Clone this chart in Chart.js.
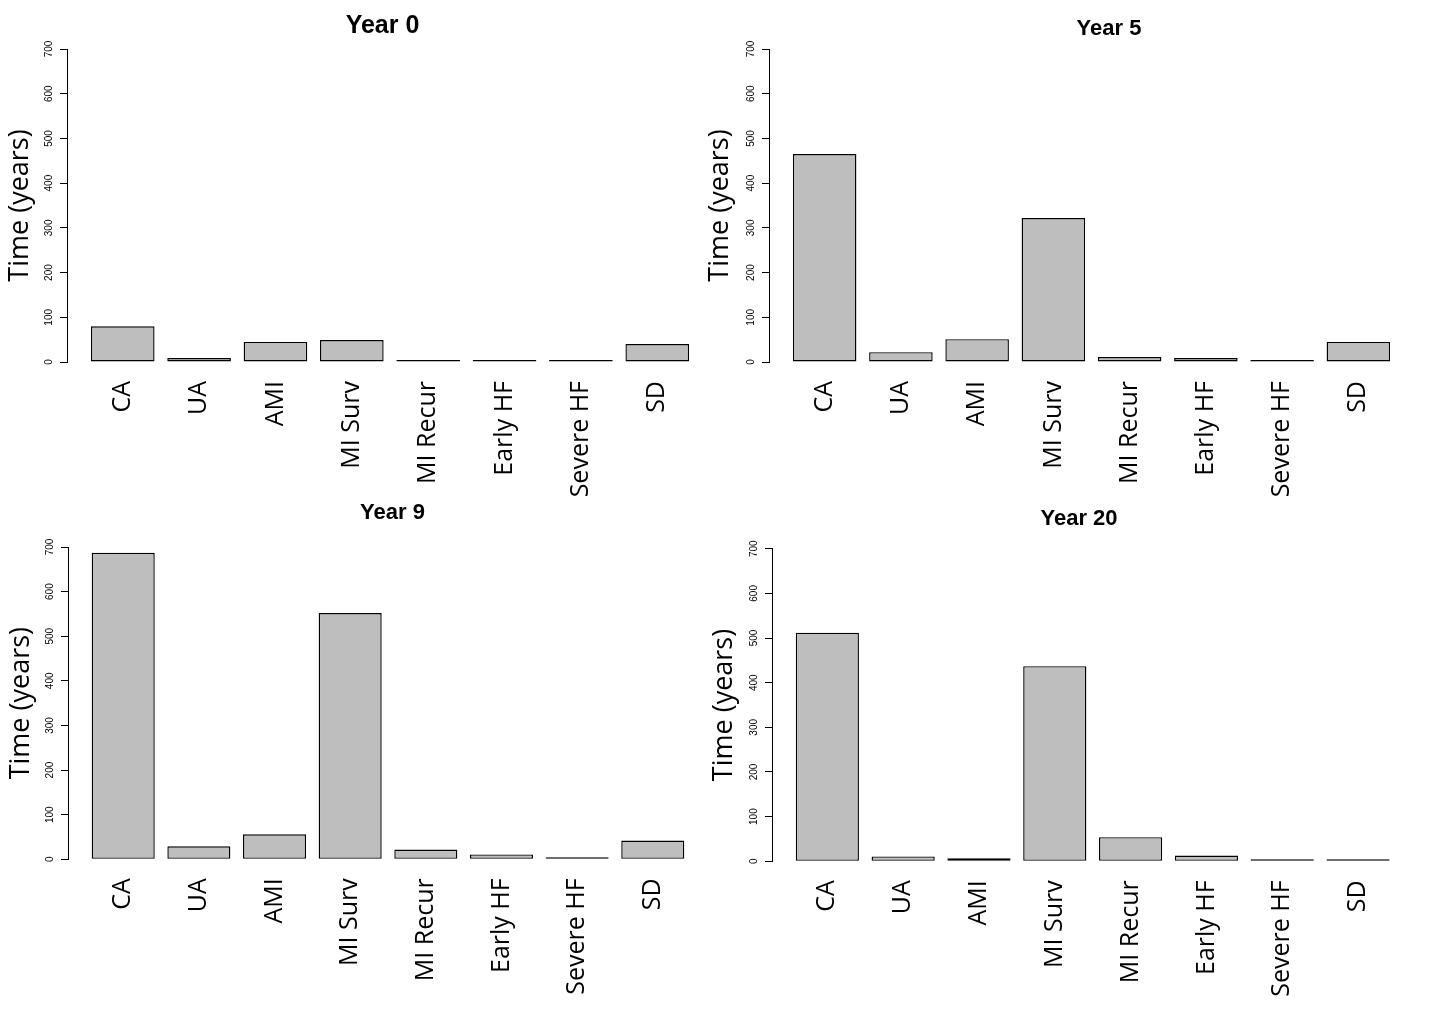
<!DOCTYPE html>
<html>
<head>
<meta charset="utf-8">
<script src="https://cdn.jsdelivr.net/npm/chart.js@4.4.0/dist/chart.umd.min.js"></script>
<style>
html, body { margin: 0; padding: 0; background: #ffffff; overflow: hidden; }
#wrap { position: relative; width: 1440px; height: 1026px; overflow: hidden; background: #ffffff; }
#wrap canvas { position: absolute; }
</style>
</head>
<body>
<div id="wrap">
  <canvas id="c0"></canvas>
  <canvas id="c1"></canvas>
  <canvas id="c2"></canvas>
  <canvas id="c3"></canvas>
</div>
<script>
// ---------- data ----------
const categories = ['CA', 'UA', 'AMI', 'MI Surv', 'MI Recur', 'Early HF', 'Severe HF', 'SD'];
const panelTitles = ['Year 0', 'Year 5', 'Year 9', 'Year 20'];
const year0  = [80, 9, 45, 49, 0.5, 3, 0.5, 40];
const year5  = [465, 22, 51, 322, 11, 9, 0.5, 45];
const year9  = [687, 29, 56, 552, 22, 11, 2, 42];
const year20 = [512, 11, 7, 437, 54, 13, 4.5, 0.5];
const yTickValues = [0, 100, 200, 300, 400, 500, 600, 700];
const yAxisTitle = 'Time (years)';

// ---------- layout (R barplot geometry: width 1, space 0.2, 4% axis extension) ----------
const barCenter = i => 0.7 + 1.2 * i;
const xMin = 0.2 - 0.376;
const xMax = 9.6 + 0.376;

const panels = [
  { id: 'c0', title: panelTitles[0], values: year0,  left: 0,   top: 0,   width: 765, height: 500, axisW: 67, rightW: 52,  titleSize: 25, tPadTop: 11,   tPadBottom: 8,    xAxisH: 138,   yTitlePad: 4.3 },
  { id: 'c1', title: panelTitles[1], values: year5,  left: 700, top: 0,   width: 818, height: 500, axisW: 69, rightW: 104, titleSize: 22, tPadTop: 15.8, tPadBottom: 6.8,  xAxisH: 138,   yTitlePad: 4.3 },
  { id: 'c2', title: panelTitles[2], values: year9,  left: 0,   top: 490, width: 785, height: 536, axisW: 68, rightW: 77,  titleSize: 22, tPadTop: 9.8,  tPadBottom: 20.8, xAxisH: 166.7, yTitlePad: 5 },
  { id: 'c3', title: panelTitles[3], values: year20, left: 700, top: 490, width: 758, height: 536, axisW: 72, rightW: 44.6,titleSize: 22, tPadTop: 15.8, tPadBottom: 16.5, xAxisH: 164.7, yTitlePad: 8.5 }
];

panels.forEach(p => {
  const cv = document.getElementById(p.id);
  cv.width = p.width;
  cv.height = p.height;
  cv.style.left = p.left + 'px';
  cv.style.top = p.top + 'px';

  new Chart(cv, {
    type: 'bar',
    data: {
      datasets: [{
        data: p.values.map((v, i) => ({ x: barCenter(i), y: v })),
        backgroundColor: '#bebebe',
        borderColor: '#000000',
        borderWidth: 1.4,
        borderSkipped: false,
        categoryPercentage: 1,
        barPercentage: 1 / 1.2,
        minBarLength: 2
      }]
    },
    options: {
      responsive: false,
      animation: false,
      devicePixelRatio: 1,
      layout: { padding: 0 },
      plugins: {
        legend: { display: false },
        tooltip: { enabled: false },
        title: {
          display: true,
          text: p.title,
          color: '#000000',
          font: { family: 'Liberation Sans', size: p.titleSize, weight: 'bold', lineHeight: 1.2 },
          padding: { top: p.tPadTop, bottom: p.tPadBottom }
        }
      },
      scales: {
        x: {
          type: 'linear',
          position: 'bottom',
          offset: false,
          min: xMin,
          max: xMax,
          grid: { display: false, offset: false },
          border: { display: false },
          afterBuildTicks: s => { s.ticks = categories.map((c, i) => ({ value: barCenter(i) })); },
          afterFit: s => { s.height = p.xAxisH; },
          ticks: {
            autoSkip: false,
            minRotation: 90,
            maxRotation: 90,
            padding: 11,
            color: '#000000',
            font: { family: 'Open Sans', size: 25 },
            callback: (v, i) => categories[i]
          }
        },
        y: {
          type: 'linear',
          position: 'left',
          min: 0,
          max: 700,
          afterBuildTicks: s => { s.ticks = yTickValues.map(v => ({ value: v })); },
          afterFit: s => { s.width = p.axisW; },
          grid: { display: true, drawOnChartArea: false, drawTicks: true, tickLength: 7, color: '#000000', lineWidth: 1 },
          border: { display: true, color: '#000000', width: 1 },
          ticks: {
            autoSkip: false,
            minRotation: 90,
            maxRotation: 90,
            crossAlign: 'center',
            padding: 2,
            color: '#000000',
            font: { family: 'Liberation Sans', size: 10 }
          },
          title: {
            display: true,
            text: yAxisTitle,
            color: '#000000',
            font: { family: 'Open Sans', size: 27 },
            padding: { top: p.yTitlePad, bottom: 0 }
          }
        },
        y2: {
          type: 'linear',
          position: 'right',
          display: true,
          grid: { display: false },
          border: { display: false },
          ticks: { display: false },
          afterFit: s => { s.width = p.rightW; }
        }
      }
    }
  });
});
</script>
</body>
</html>
